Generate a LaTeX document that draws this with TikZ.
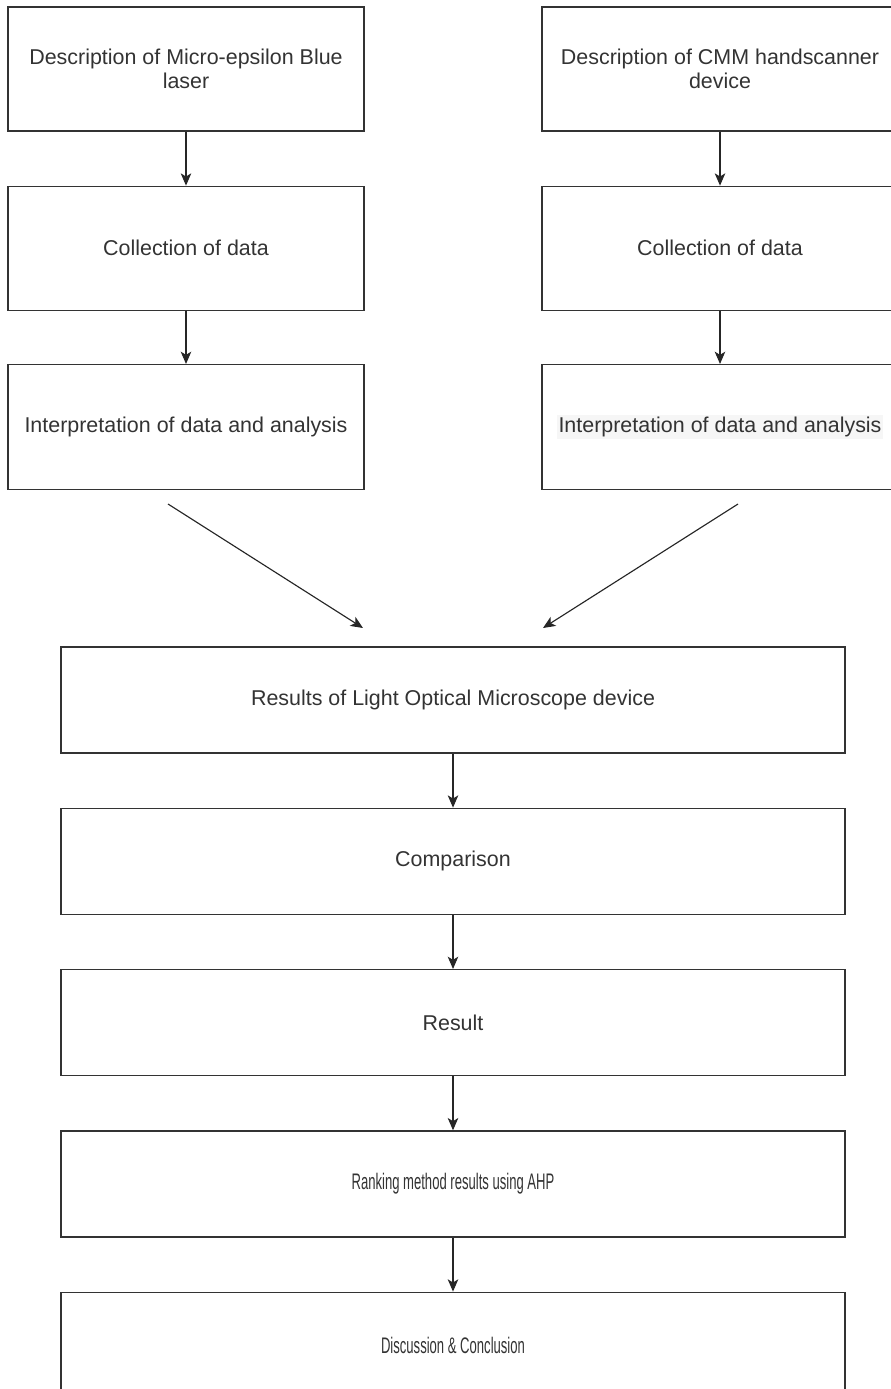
\documentclass[tikz,border=0pt]{standalone}
\usepackage{fontspec}
\setmainfont{Liberation Sans}
\usetikzlibrary{positioning,arrows.meta}

\begin{document}
\begin{tikzpicture}[
  stepbox/.style={draw=black!80,line width=0.75pt,align=center,minimum width=7.12cm,
                  minimum height=2.48cm,inner sep=0pt,font=\fontsize{12.2}{13.7}\selectfont,
                  text=black!80},
  widebox/.style={stepbox,minimum width=15.68cm,minimum height=2.12cm},
  arr/.style={-{Stealth[length=7pt,width=6pt,inset=1.8pt]},line width=0.65pt,draw=black!85},
]
\useasboundingbox (0,0) rectangle (17.82,-27.78);

% Left branch
\node[stepbox] (L1) at (3.72,-1.38) {Description of Micro-epsilon Blue\\ laser};
\node[stepbox,below=1.08cm of L1] (L2) {Collection of data};
\node[stepbox,minimum height=2.5cm,below=1.06cm of L2] (L3) {Interpretation of data and analysis};

% Right branch
\node[stepbox] (R1) at (14.4,-1.38) {Description of CMM handscanner\\ device};
\node[stepbox,below=1.08cm of R1] (R2) {Collection of data};
\node[stepbox,minimum height=2.5cm,below=1.06cm of R2] (R3)
  {\setlength{\fboxsep}{1pt}\colorbox{gray!7}{Interpretation of data and analysis}};

% Joint chain
\node[widebox] (B1) at (9.06,-14.0) {Results of Light Optical Microscope device};
\node[widebox,below=1.08cm of B1] (B2) {Comparison};
\node[widebox,below=1.08cm of B2] (B3) {Result};
\node[widebox,below=1.08cm of B3] (B4) {\scalebox{0.61}[1.05]{Ranking method results using AHP}};
\node[widebox,below=1.08cm of B4] (B5) {\scalebox{0.61}[1.05]{Discussion \& Conclusion}};

% Free ends of the merging arrows
\coordinate (dl) at (3.36,-10.08);
\coordinate (el) at (7.26,-12.56);
\coordinate (dr) at (14.76,-10.08);
\coordinate (er) at (10.86,-12.56);

% Arrows
\draw[arr] (L1) -- (L2);
\draw[arr] (L2) -- (L3);
\draw[arr] (R1) -- (R2);
\draw[arr] (R2) -- (R3);
\draw[arr] (dl) -- (el);
\draw[arr] (dr) -- (er);
\draw[arr] (B1) -- (B2);
\draw[arr] (B2) -- (B3);
\draw[arr] (B3) -- (B4);
\draw[arr] (B4) -- (B5);

\end{tikzpicture}
\end{document}
